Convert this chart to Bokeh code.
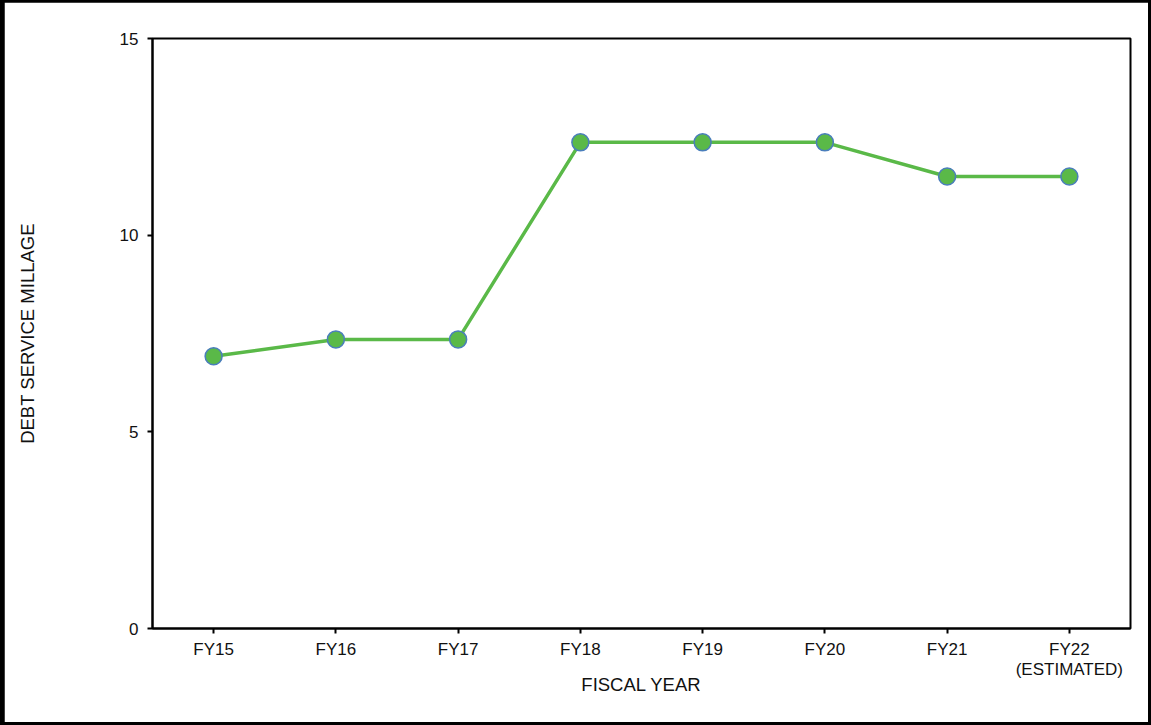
from bokeh.plotting import figure
from bokeh.layouts import column
from bokeh.models import FactorRange, Range1d, FixedTicker, ColumnDataSource
from bokeh.embed import file_html
from bokeh.resources import INLINE

categories = ["FY15", "FY16", "FY17", "FY18", "FY19", "FY20", "FY21", "FY22\n(ESTIMATED)"]
millage = [6.92, 7.35, 7.35, 12.36, 12.36, 12.36, 11.49, 11.49]
y_ticks = [0, 5, 10, 15]

FONT = "Liberation Sans"
TXT = "#111111"

src = ColumnDataSource(dict(x=categories, y=millage))

p = figure(width=1144, height=720, x_range=FactorRange(*categories),
           y_range=Range1d(0, 15), output_backend="svg", toolbar_location=None,
           min_border_left=148, min_border_right=18, min_border_top=36, min_border_bottom=94)

p.line("x", "y", source=src, line_color="#5ab948", line_width=3.5)
p.scatter("x", "y", source=src, size=17, fill_color="#5ab948",
          line_color="#4a7ebb", line_width=1.5)

p.xgrid.visible = False
p.ygrid.visible = False
p.outline_line_color = "black"
p.outline_line_width = 2
p.outline_line_alpha = 1

for ax in (p.xaxis[0], p.yaxis[0]):
    ax.axis_line_color = "black"
    ax.axis_line_width = 2
    ax.major_tick_line_color = "black"
    ax.major_tick_line_width = 2
    ax.major_tick_out = 5
    ax.major_tick_in = 0
    ax.minor_tick_line_color = None
    ax.major_label_text_font = FONT
    ax.major_label_text_font_size = "17px"
    ax.major_label_text_color = TXT
    ax.axis_label_text_font = FONT
    ax.axis_label_text_font_size = "18.5px"
    ax.axis_label_text_font_style = "normal"
    ax.axis_label_text_color = TXT

p.yaxis[0].ticker = FixedTicker(ticks=y_ticks)
p.yaxis[0].axis_label = "DEBT SERVICE MILLAGE"
p.yaxis[0].major_label_standoff = 9
p.yaxis[0].axis_label_standoff = 79
p.xaxis[0].axis_label = "FISCAL YEAR"
p.xaxis[0].major_label_standoff = 6
p.xaxis[0].major_label_text_line_height = 1.1
p.xaxis[0].axis_label_standoff = -8

layout = column(p, styles={"background-color": "black", "padding": "2px 3px 3px 4px"})

open("out.html", "w").write(file_html(layout, INLINE))
